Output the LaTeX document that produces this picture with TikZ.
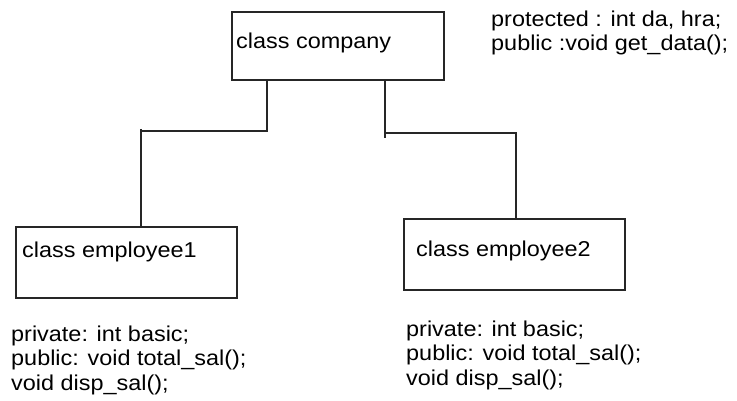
\documentclass[tikz,border=0pt]{standalone}
\usepackage{fontspec}
\setmainfont{Liberation Sans}[FakeStretch=1.09]
\begin{document}
\begin{tikzpicture}[x=1pt,y=-1pt,
  classbox/.style={draw=black!85,line width=1.4pt},
  link/.style={draw=black!85,line width=1.4pt},
  label/.style={inner sep=0pt,anchor=base west,font=\fontsize{21.5}{24.5}\selectfont},
  note/.style={inner sep=0pt,anchor=base west,align=left,font=\fontsize{21.5}{24.5}\selectfont}]
\useasboundingbox (0,0) rectangle (737,401);

% class boxes
\draw[classbox] (232,12) rectangle (444,80);
\draw[classbox] (16,227) rectangle (237,298);
\draw[classbox] (404,219) rectangle (625,290);

\node[label] (tcompany) at (236,49) {class company};
\node[label] (temp1) at (22,258) {class employee1};
\node[label] (temp2) at (416,257) {class employee2};

% inheritance links
\coordinate (c1) at (267,80);
\coordinate (c1b) at (267,131);
\coordinate (e1) at (141,227);
\coordinate (e1b) at (141,129);
\draw[link] (c1) -- (c1b) -- (141,131);
\draw[link] (e1b) -- (e1);

\coordinate (c2) at (385,80);
\coordinate (c2b) at (385,138);
\coordinate (e2) at (516,219);
\draw[link] (c2) -- (c2b);
\draw[link] (385,133) -| (e2);

% member lists (anchored at the baseline of their last line)
\node[note] (mcompany) at (491,51) {protected : int da, hra;\\public :void get\_data();};
\node[note] (memp1) at (11,390) {private: int basic;\\public: void total\_sal();\\void disp\_sal();};
\node[note] (memp2) at (406,385) {private: int basic;\\public: void total\_sal();\\void disp\_sal();};
\end{tikzpicture}
\end{document}
